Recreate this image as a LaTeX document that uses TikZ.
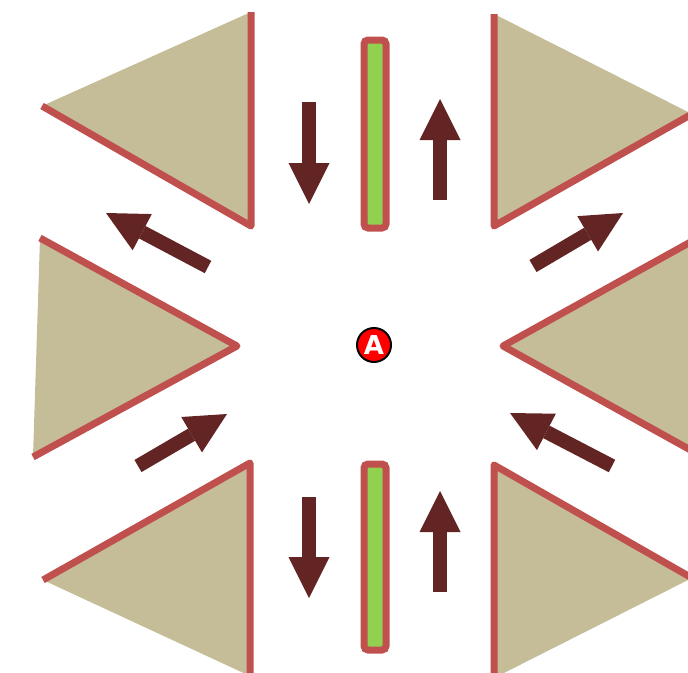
\documentclass[tikz,border=0pt]{standalone}
\usepackage{fontspec}
\setsansfont{DejaVu Sans}
\usetikzlibrary{arrows.meta}
\definecolor{prismtan}{HTML}{C4BD97}
\definecolor{edgered}{HTML}{C0504D}
\definecolor{pushbrown}{HTML}{632523}
\definecolor{platelime}{HTML}{92D050}

\begin{document}
\begin{tikzpicture}[x=1pt, y=-1pt,
  prism/.style={fill=prismtan},
  face/.style={draw=edgered, line width=7pt, line join=round},
  plate/.style={draw=edgered, fill=platelime, line width=7pt, rounded corners=4pt},
  push/.style={draw=pushbrown, line width=14pt, -{Triangle[length=41pt,width=41pt,line width=0pt]}}]
\useasboundingbox (0,0) rectangle (688,672);
\clip (0,0) rectangle (688,672);
\fill[prism] (251,12) -- (251,226) -- (42,106) -- cycle;
\draw[face] (251,12) -- (251,226) -- (42,106);
\fill[prism] (494,14) -- (494,226) -- (692,114) -- cycle;
\draw[face] (494,14) -- (494,226) -- (692,114);
\fill[prism] (40,238) -- (237,346) -- (33,457) -- cycle;
\draw[face] (40,238) -- (237,346) -- (33,457);
\fill[prism] (705,234) -- (503,346) -- (705,458) -- cycle;
\draw[face] (705,234) -- (503,346) -- (705,458);
\fill[prism] (43,580) -- (250,463) -- (250,676) -- cycle;
\draw[face] (43,580) -- (250,463) -- (250,676);
\fill[prism] (692,578) -- (494,465) -- (494,678) -- cycle;
\draw[face] (692,578) -- (494,465) -- (494,678);
\draw[plate] (364,40) rectangle (386,228);
\draw[plate] (364,464) rectangle (386,650);
\node[circle, draw=black, line width=2pt, fill=red, inner sep=0pt, minimum size=34pt,
  text=white, font=\sffamily\bfseries\fontsize{26pt}{26pt}\selectfont] (a) at (374,345) {A};
\coordinate (t1) at (309,102); \coordinate (h1) at (309,204);
\coordinate (t2) at (440,200); \coordinate (h2) at (440,99);
\coordinate (t3) at (309,497); \coordinate (h3) at (309,598);
\coordinate (t4) at (440,592); \coordinate (h4) at (440,491);
\coordinate (t5) at (208,267); \coordinate (h5) at (106,213);
\coordinate (t6) at (533,266); \coordinate (h6) at (623,213);
\coordinate (t7) at (138,466); \coordinate (h7) at (227,414);
\coordinate (t8) at (612,466); \coordinate (h8) at (510,413);
\draw[push] (t1)--(h1); \draw[push] (t2)--(h2);
\draw[push] (t3)--(h3); \draw[push] (t4)--(h4);
\draw[push] (t5)--(h5); \draw[push] (t6)--(h6);
\draw[push] (t7)--(h7); \draw[push] (t8)--(h8);
\end{tikzpicture}
\end{document}
